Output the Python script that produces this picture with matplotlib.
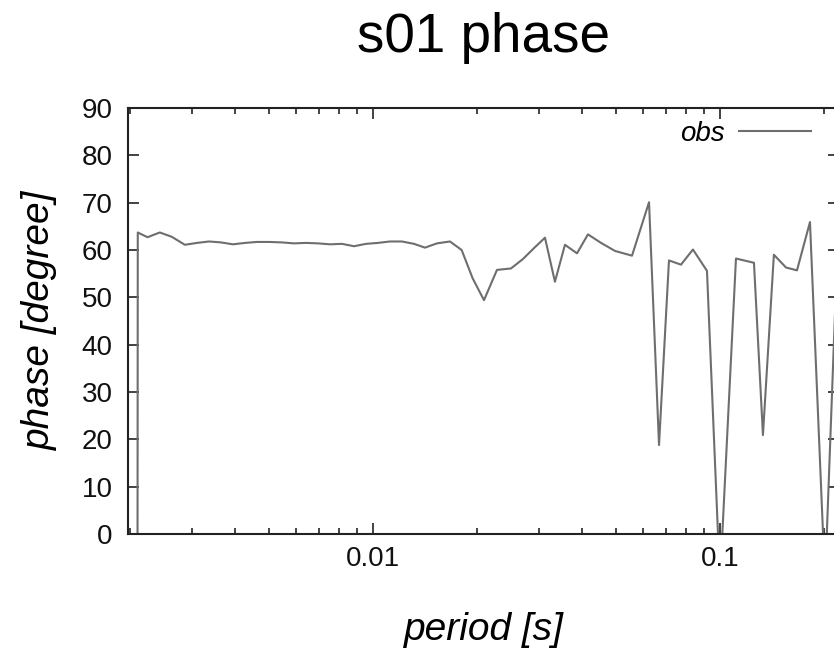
import matplotlib
matplotlib.use("Agg")
import matplotlib.pyplot as plt
from matplotlib.ticker import LogLocator, MultipleLocator, FixedLocator

plt.rcParams['font.family'] = ['Liberation Sans', 'DejaVu Sans']

# data (period in s, phase in degree)
period = [0.00209, 0.00210, 0.00224, 0.00243, 0.00263, 0.00287, 0.00311, 0.00337,
          0.00365, 0.00395, 0.00428, 0.00463, 0.00505, 0.00547, 0.00592, 0.00641,
          0.00694, 0.00752, 0.00814, 0.00882, 0.00955, 0.01034, 0.01119, 0.01212,
          0.01313, 0.01412, 0.01529, 0.01667, 0.01801, 0.01938, 0.02089, 0.02277,
          0.02499, 0.02706, 0.02911, 0.03131, 0.03345, 0.03575, 0.03872, 0.04165,
          0.04542, 0.04983, 0.05578, 0.06245, 0.06673, 0.07129, 0.07720, 0.08358,
          0.09173, 0.1000, 0.1112, 0.1253, 0.1330, 0.1430, 0.1550, 0.1667,
          0.1817, 0.2008, 0.2174]
phase = [-120.0, 63.7, 62.7, 63.7, 62.8, 61.1, 61.5, 61.8,
         61.6, 61.2, 61.5, 61.7, 61.7, 61.6, 61.4, 61.5,
         61.4, 61.2, 61.3, 60.8, 61.3, 61.5, 61.8, 61.8,
         61.3, 60.5, 61.4, 61.8, 60.0, 54.0, 49.4, 55.8,
         56.1, 58.1, 60.4, 62.6, 53.3, 61.1, 59.3, 63.3,
         61.5, 59.8, 58.8, 70.1, 18.8, 57.8, 56.9, 60.1,
         55.6, -10.0, 58.2, 57.3, 20.9, 59.0, 56.3, 55.7,
         65.9, -10.0, 58.0]

title = 's01 phase'
xlabel = 'period [s]'
ylabel = 'phase [degree]'
series_name = 'obs'

W, H = 834, 651
fig = plt.figure(figsize=(W / 100, H / 100), dpi=100)
ax = fig.add_axes([128 / W, 117 / H, (839 - 128) / W, (534 - 108) / H])

ax.plot(period, phase, color='#6e6e6e', lw=1.5, label=series_name)

ax.set_xscale('log')
ax.set_xlim(0.001968, 0.2203)
ax.set_ylim(0, 90)
ax.yaxis.set_major_locator(MultipleLocator(10))
ax.xaxis.set_major_locator(FixedLocator([0.01, 0.1]))
ax.xaxis.set_minor_locator(LogLocator(base=10, subs=range(2, 10), numticks=20))
ax.set_xticklabels(['0.01', '0.1'])
ax.xaxis.set_minor_formatter(plt.NullFormatter())

ax.tick_params(which='both', direction='in', top=True, right=True,
               color='#222222', width=1.2, labelsize=20, labelcolor='#111111')
ax.tick_params(which='major', length=8, pad=9)
ax.tick_params(which='minor', length=4)
ax.tick_params(axis='y', pad=11)
for s in ax.spines.values():
    s.set_color('#222222')
    s.set_linewidth(1.5)

fig.text(483.5 / W, 1 - 52 / H, title, fontsize=39.5, ha='center', va='baseline')
fig.text(484 / W, 1 - 630 / H, xlabel, fontsize=28, style='italic', ha='center', va='center')
fig.text(40 / W, 1 - 320 / H, ylabel, fontsize=28, style='italic', rotation=90,
         ha='center', va='center')

leg = ax.legend(loc='center right', bbox_to_anchor=(822 / W, 1 - 134 / H),
                bbox_transform=fig.transFigure, frameon=False, markerfirst=False,
                handlelength=2.6, handletextpad=0.5, borderaxespad=0,
                prop={'size': 20, 'style': 'italic'})

fig.savefig('out.png', dpi=100)
